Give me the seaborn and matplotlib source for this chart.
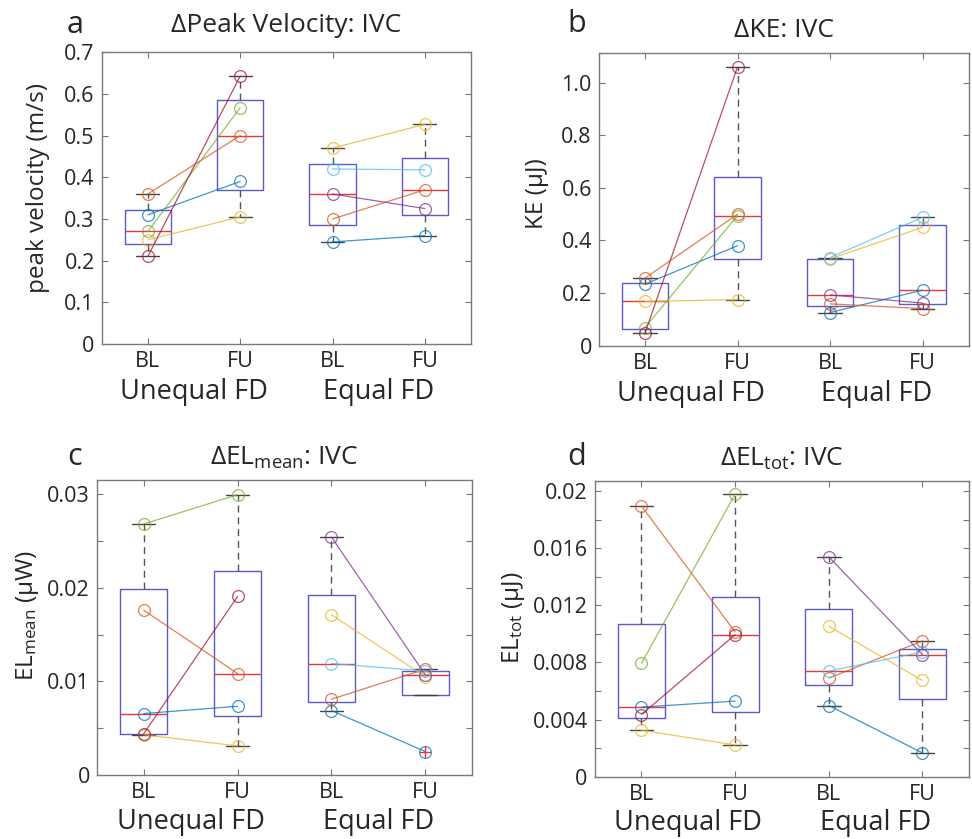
import numpy as np
import pandas as pd
import seaborn as sns
import matplotlib
matplotlib.use('Agg')
import matplotlib.pyplot as plt

# Farbe je Proband (MATLAB Standardreihenfolge)
unequal_ids = ['U1', 'U2', 'U3', 'U4', 'U5']
equal_ids = ['E1', 'E2', 'E3', 'E4', 'E5']
unequal_colors = ['#0072BD', '#D95319', '#EDB120', '#77AC30', '#A2142F']
equal_colors = ['#0072BD', '#D95319', '#EDB120', '#7E2F8E', '#4DBEEE']

time_labels = ['BL', 'FU', 'BL', 'FU']
group_labels = ['Unequal FD', 'Equal FD']

# a: peak velocity (m/s)
pv_unequal_bl = [0.31, 0.36, 0.25, 0.27, 0.21]
pv_unequal_fu = [0.39, 0.50, 0.305, 0.567, 0.643]
pv_equal_bl = [0.245, 0.30, 0.47, 0.36, 0.42]
pv_equal_fu = [0.26, 0.37, 0.527, 0.325, 0.418]
pv_ticks = [0, 0.1, 0.2, 0.3, 0.4, 0.5, 0.6, 0.7]
pv_ticklabels = ['0', '0.1', '0.2', '0.3', '0.4', '0.5', '0.6', '0.7']

# b: KE (uJ)
ke_unequal_bl = [0.234, 0.257, 0.168, 0.069, 0.048]
ke_unequal_fu = [0.380, 0.500, 0.175, 0.495, 1.060]
ke_equal_bl = [0.126, 0.159, 0.330, 0.193, 0.335]
ke_equal_fu = [0.211, 0.141, 0.450, 0.162, 0.488]
ke_ticks = [0, 0.2, 0.4, 0.6, 0.8, 1.0]
ke_ticklabels = ['0', '0.2', '0.4', '0.6', '0.8', '1.0']

# c: EL mean (uW)
elm_unequal_bl = [0.00656, 0.0176, 0.0043, 0.0268, 0.0044]
elm_unequal_fu = [0.00734, 0.01083, 0.0031, 0.02993, 0.01906]
elm_equal_bl = [0.00688, 0.00809, 0.0171, 0.0254, 0.0119]
elm_equal_fu = [0.0025, 0.0113, 0.0105, 0.0107, 0.0111]
elm_ticks = [0, 0.005, 0.01, 0.015, 0.02, 0.025, 0.03]
elm_ticklabels = ['0', '', '0.01', '', '0.02', '', '0.03']

# d: EL tot (uJ)
elt_unequal_bl = [0.00487, 0.01895, 0.00325, 0.00793, 0.00435]
elt_unequal_fu = [0.00529, 0.01013, 0.00222, 0.01979, 0.00994]
elt_equal_bl = [0.00498, 0.0069, 0.01053, 0.01539, 0.00739]
elt_equal_fu = [0.00166, 0.0095, 0.00674, 0.00855, 0.00873]
elt_ticks = [0, 0.002, 0.004, 0.006, 0.008, 0.01, 0.012, 0.014, 0.016, 0.018, 0.02]
elt_ticklabels = ['0', '', '0.004', '', '0.008', '', '0.012', '', '0.016', '', '0.02']

sns.set_style('ticks')
plt.rcParams['font.family'] = ['Open Sans', 'DejaVu Sans']
plt.rcParams['mathtext.fontset'] = 'custom'
plt.rcParams['mathtext.rm'] = 'Open Sans'
plt.rcParams['mathtext.it'] = 'Open Sans'


def matlab_stats(vals):
    # Quartile wie MATLAB prctile (hazen), Whisker 1.5 IQR
    v = np.sort(np.asarray(vals, float))
    q1, med, q3 = np.percentile(v, [25, 50, 75], method='hazen')
    iqr = q3 - q1
    ok = (v >= q1 - 1.5 * iqr) & (v <= q3 + 1.5 * iqr)
    return dict(med=med, q1=q1, q3=q3,
                whislo=min(v[ok].min(), q1), whishi=max(v[ok].max(), q3),
                fliers=v[~ok])


def draw_panel(ax, ubl, ufu, ebl, efu, ylim, ticks, ticklabels):
    rows = []
    for i, s in enumerate(unequal_ids):
        rows.append((s, 1, ubl[i]))
        rows.append((s, 2, ufu[i]))
    for i, s in enumerate(equal_ids):
        rows.append((s, 3, ebl[i]))
        rows.append((s, 4, efu[i]))
    df = pd.DataFrame(rows, columns=['subject', 'pos', 'value'])
    pal = dict(zip(unequal_ids + equal_ids, unequal_colors + equal_colors))

    sns.lineplot(data=df, x='pos', y='value', hue='subject', palette=pal,
                 estimator=None, units='subject', marker='o', markersize=8.5,
                 markerfacecolor='none', lw=0.9, alpha=0.75, legend=False,
                 ax=ax, zorder=3)
    for ln in ax.lines:
        ln.set_markeredgecolor(ln.get_color())
        ln.set_markeredgewidth(0.9)

    stats = [matlab_stats(g) for g in (ubl, ufu, ebl, efu)]
    parts = ax.bxp(stats, positions=[1, 2, 3, 4], widths=0.5, capwidths=0.25,
                   boxprops=dict(color='#5a5ac8', lw=1.0),
                   medianprops=dict(color='#e8383b', lw=1.0),
                   whiskerprops=dict(color='#555555', lw=1.0, linestyle=(0, (5, 3.5))),
                   capprops=dict(color='#444444', lw=1.0),
                   flierprops=dict(marker='+', markeredgecolor='#e8383b',
                                   markersize=8, markeredgewidth=1.0),
                   manage_ticks=False, zorder=2)
    for fl in parts['fliers']:
        fl.set_zorder(4)

    ax.set_xlim(0.5, 4.5)
    ax.set_ylim(*ylim)
    ax.set_xticks([1, 2, 3, 4])
    ax.set_xticklabels(time_labels)
    ax.set_yticks(ticks)
    ax.set_yticklabels(ticklabels)
    ax.set_xlabel('')
    ax.set_ylabel('')
    ax.tick_params(direction='in', top=True, right=True, length=4,
                   color='#777777', labelsize=15.5, pad=5)
    for sp in ax.spines.values():
        sp.set_visible(True)
        sp.set_color('#7a7a7a')
        sp.set_linewidth(1.0)


fig = plt.figure(figsize=(9.72, 8.39), dpi=100)
ax_a = fig.add_axes([0.1046, 0.5900, 0.3800, 0.3477])
ax_b = fig.add_axes([0.6160, 0.5880, 0.3807, 0.3485])
ax_c = fig.add_axes([0.0995, 0.0763, 0.3864, 0.3516])
ax_d = fig.add_axes([0.6118, 0.0743, 0.3854, 0.3524])

draw_panel(ax_a, pv_unequal_bl, pv_unequal_fu, pv_equal_bl, pv_equal_fu,
           (0, 0.7), pv_ticks, pv_ticklabels)
draw_panel(ax_b, ke_unequal_bl, ke_unequal_fu, ke_equal_bl, ke_equal_fu,
           (0, 1.112), ke_ticks, ke_ticklabels)
draw_panel(ax_c, elm_unequal_bl, elm_unequal_fu, elm_equal_bl, elm_equal_fu,
           (0, 0.0315), elm_ticks, elm_ticklabels)
draw_panel(ax_d, elt_unequal_bl, elt_unequal_fu, elt_equal_bl, elt_equal_fu,
           (0, 0.0207), elt_ticks, elt_ticklabels)

# Titel
ax_a.set_title('ΔPeak Velocity: IVC', fontsize=19, pad=14.5)
ax_b.set_title('ΔKE: IVC', fontsize=19, pad=11.5)
ax_c.set_title(r'ΔEL$_{\mathrm{mean}}$: IVC', fontsize=19, pad=11)
ax_d.set_title(r'ΔEL$_{\mathrm{tot}}$: IVC', fontsize=19, pad=11)

# y-Achsen Beschriftung
ylabels = [(ax_a, 'peak velocity (m/s)', -0.1725, 0.535),
           (ax_b, 'KE (μJ)', -0.1676, 0.521),
           (ax_c, r'EL$_{\mathrm{mean}}$ (μW)', -0.183, 0.542),
           (ax_d, r'EL$_{\mathrm{tot}}$ (μJ)', -0.217, 0.537)]
for ax, txt, x, y in ylabels:
    ax.text(x, y, txt, transform=ax.transAxes, rotation=90, ha='center',
            va='center', fontsize=17.5)

# Gruppen unter den Ticks
for ax, off in [(ax_a, -39.8), (ax_b, -39.8), (ax_c, -39.0), (ax_d, -38.4)]:
    for xc, g in zip([1.5, 3.5], group_labels):
        ax.annotate(g, xy=(xc, 0), xycoords=('data', 'axes fraction'),
                    xytext=(0, off), textcoords='offset points',
                    ha='center', va='baseline', fontsize=19.5,
                    annotation_clip=False)

# Panel Buchstaben
for letter, px, py in [('a', 67, 33), ('b', 567, 32), ('c', 67, 465), ('d', 567, 465)]:
    fig.text(px / 972, 1 - py / 839, letter, fontsize=22, ha='left', va='baseline')

fig.savefig('out.png', dpi=100)
